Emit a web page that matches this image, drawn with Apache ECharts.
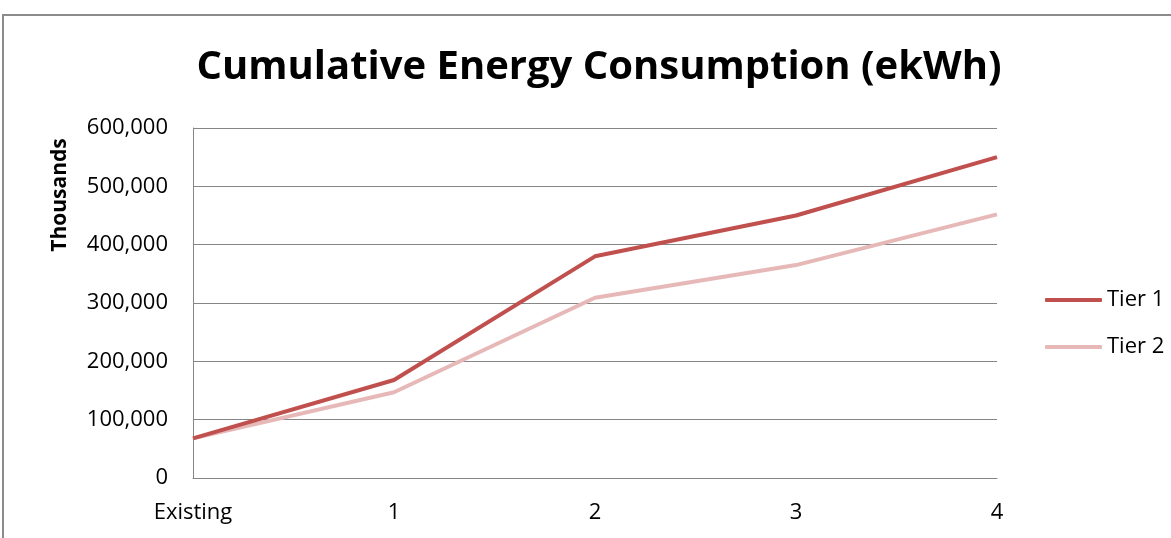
<!DOCTYPE html>
<html>
<head>
<meta charset="utf-8">
<script src="https://cdn.jsdelivr.net/npm/echarts@6/dist/echarts.min.js"></script>
<style>
  html, body { margin: 0; padding: 0; background: #fff; }
  #chart { width: 1171px; height: 538px; }
</style>
</head>
<body>
<div id="chart"></div>
<script>
// Scenario steps along the x-axis
const categories = ['Existing', '1', '2', '3', '4'];
// Cumulative consumption in thousands of ekWh
const tier1 = [68000, 168000, 380000, 450000, 550000];
const tier2 = [68000, 147000, 309000, 365000, 452000];
const seriesNames = ['Tier 1', 'Tier 2'];
const yAxisTitle = 'Thousands';

const FONT = '"Open Sans", "Liberation Sans", sans-serif';

const chart = echarts.init(document.getElementById('chart'), null, { renderer: 'canvas' });

chart.setOption({
  animation: false,
  backgroundColor: '#ffffff',
  graphic: [
    {
      type: 'rect',
      shape: { x: 3, y: 15, width: 1200, height: 600 },
      style: { fill: 'none', stroke: '#8c8c8c', lineWidth: 2 },
      silent: true
    },
    {
      // y-axis title, set high up beside the upper ticks
      type: 'text',
      x: 60,
      y: 195,
      rotation: Math.PI / 2,
      style: {
        text: yAxisTitle,
        fontFamily: FONT, fontSize: 21, fontWeight: 'bold', fill: '#000',
        align: 'center', verticalAlign: 'middle'
      },
      silent: true
    }
  ],
  title: {
    text: 'Cumulative Energy Consumption (ekWh)',
    left: 594,
    textAlign: 'center',
    top: 43,
    textStyle: { fontFamily: FONT, fontSize: 40, fontWeight: 'bold', color: '#000' }
  },
  legend: {
    orient: 'vertical',
    left: 1040,
    top: 284,
    itemWidth: 57,
    itemHeight: 4,
    itemGap: 25,
    icon: 'roundRect',
    data: seriesNames,
    textStyle: { fontFamily: FONT, fontSize: 22, color: '#000', lineHeight: 22, padding: [0, 0, 0, 0] }
  },
  grid: { left: 193, top: 128, right: 174, bottom: 60, containLabel: false },
  xAxis: {
    type: 'category',
    data: categories,
    boundaryGap: false,
    axisLine: { show: true, lineStyle: { color: '#868686', width: 1 } },
    axisTick: { show: false },
    axisLabel: { fontFamily: FONT, fontSize: 22, color: '#000', margin: 24 },
    splitLine: { show: false }
  },
  yAxis: {
    type: 'value',
    min: 0,
    max: 600000,
    interval: 100000,
    axisLine: { show: true, lineStyle: { color: '#868686', width: 1 } },
    axisTick: { show: false },
    axisLabel: {
      fontFamily: FONT, fontSize: 22, color: '#000', margin: 25,
      formatter: v => v.toLocaleString('en-US')
    },
    splitLine: { show: true, lineStyle: { color: '#868686', width: 1 } }
  },
  series: [
    {
      name: seriesNames[0],
      type: 'line',
      data: tier1,
      showSymbol: false,
      symbol: 'none',
      z: 3,
      lineStyle: { color: '#c0504d', width: 4 },
      itemStyle: { color: '#c0504d' }
    },
    {
      name: seriesNames[1],
      type: 'line',
      data: tier2,
      showSymbol: false,
      symbol: 'none',
      z: 2,
      lineStyle: { color: '#e6b9b8', width: 4 },
      itemStyle: { color: '#e6b9b8' }
    }
  ]
});
</script>
</body>
</html>
